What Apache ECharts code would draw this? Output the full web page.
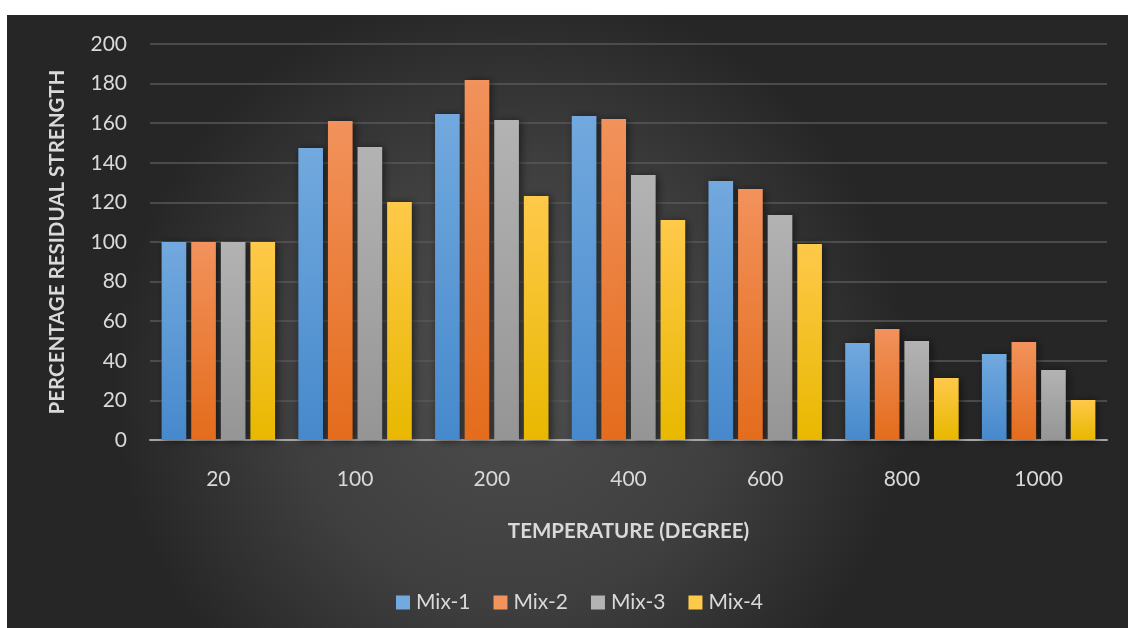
<!DOCTYPE html>
<html>
<head>
<meta charset="utf-8">
<script src="https://cdn.jsdelivr.net/npm/echarts@6/dist/echarts.min.js"></script>
<style>
  html, body { margin: 0; padding: 0; background: #ffffff; }
  #chart { width: 1128px; height: 628px; }
</style>
</head>
<body>
<div id="chart"></div>
<script>
// Temperature steps (degree) and residual strength (%) of each mix
const categories = ['20', '100', '200', '400', '600', '800', '1000'];
const mix1 = [100, 147.5, 164.6, 163.6, 130.8, 49, 43.4];
const mix2 = [100, 161.1, 181.8, 162.1, 126.8, 56, 49.5];
const mix3 = [100, 148, 161.6, 133.8, 113.6, 50, 35.4];
const mix4 = [100, 120.2, 123.2, 111.1, 99, 31.3, 20.2];
const seriesNames = ['Mix-1', 'Mix-2', 'Mix-3', 'Mix-4'];

const FONT = 'Lato, "Open Sans", sans-serif';

// top / bottom shades for each series' bar gradient
const palette = [
  ['#72a9de', '#4689cc'],
  ['#f2925c', '#e46c1c'],
  ['#b3b3b3', '#959595'],
  ['#ffc94a', '#e8b800']
];

function grad(c) {
  return new echarts.graphic.LinearGradient(0, 0, 0, 1, [
    { offset: 0, color: c[0] },
    { offset: 1, color: c[1] }
  ]);
}

const chart = echarts.init(document.getElementById('chart'), null, { renderer: 'canvas' });

const dataSets = [mix1, mix2, mix3, mix4];

const option = {
  backgroundColor: '#ffffff',
  animation: false,
  graphic: [{
    type: 'rect',
    z: -10,
    silent: true,
    shape: { x: 7, y: 15, width: 1121, height: 613 },
    style: {
      fill: new echarts.graphic.RadialGradient(0.45, 0.6, 0.65, [
        { offset: 0, color: '#4d4d4d' },
        { offset: 0.55, color: '#3f3f3f' },
        { offset: 1, color: '#262626' }
      ])
    }
  }],
  grid: { left: 150, right: 21, top: 44, bottom: 188 },
  legend: {
    data: seriesNames.map((n, i) => ({ name: n, itemStyle: { color: palette[i][0] } })),
    left: 391,
    top: 587,
    itemWidth: 14,
    itemHeight: 14,
    itemGap: 23,
    icon: 'rect',
    textStyle: { color: '#d9d9d9', fontSize: 21, fontFamily: FONT, padding: [0, 0, 0, 1] }
  },
  xAxis: {
    type: 'category',
    data: categories,
    name: 'TEMPERATURE (DEGREE)',
    nameLocation: 'middle',
    nameGap: 81,
    nameTextStyle: { color: '#d9d9d9', fontSize: 20.5, fontWeight: 'bold', fontFamily: FONT },
    axisLine: { lineStyle: { color: '#a6a6a6', width: 2 } },
    axisTick: { show: false },
    axisLabel: { color: '#d9d9d9', fontSize: 21, margin: 29, fontFamily: FONT }
  },
  yAxis: {
    type: 'value',
    min: 0,
    max: 200,
    interval: 20,
    name: 'PERCENTAGE RESIDUAL STRENGTH',
    nameLocation: 'middle',
    nameGap: 82,
    nameRotate: 90,
    nameTextStyle: { color: '#d9d9d9', fontSize: 20.5, fontWeight: 'bold', fontFamily: FONT },
    axisLine: { show: false },
    axisTick: { show: false },
    axisLabel: { color: '#d9d9d9', fontSize: 21, margin: 23, fontFamily: FONT },
    splitLine: { lineStyle: { color: '#595959', width: 1.5 } }
  },
  series: dataSets.map((d, i) => ({
    name: seriesNames[i],
    type: 'bar',
    data: d,
    barGap: '20%',
    barCategoryGap: '17%',
    itemStyle: {
      color: grad(palette[i]),
      shadowColor: 'rgba(0,0,0,0.55)',
      shadowBlur: 8,
      shadowOffsetX: 2,
      shadowOffsetY: 1
    }
  }))
};

chart.setOption(option);
</script>
</body>
</html>
